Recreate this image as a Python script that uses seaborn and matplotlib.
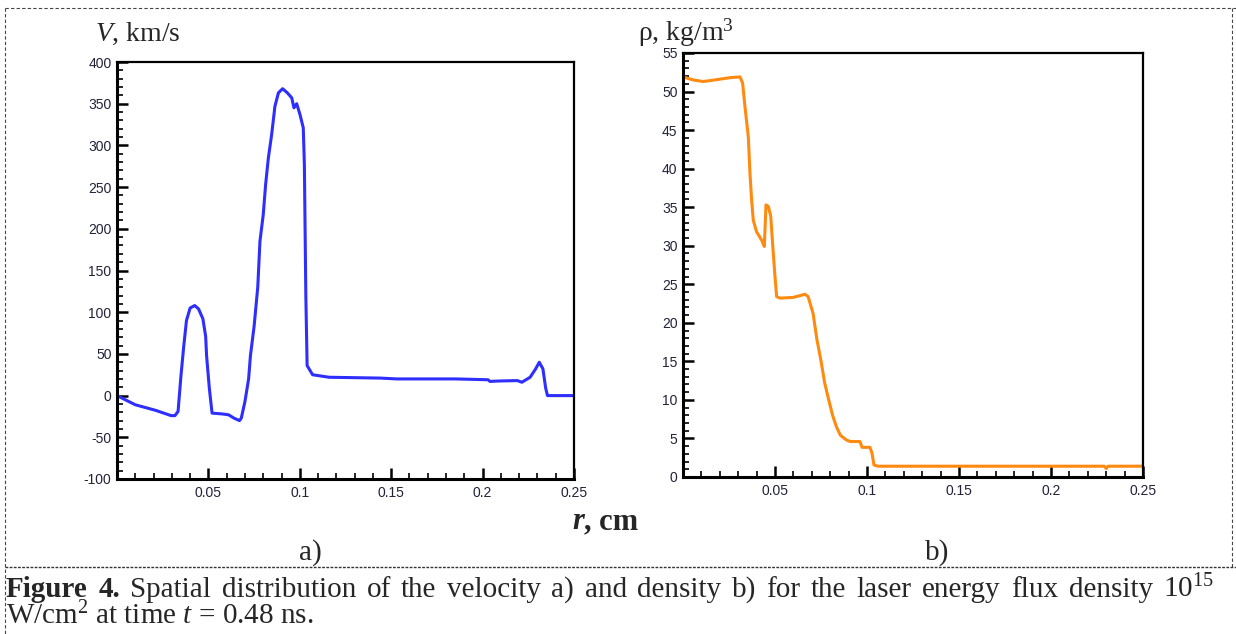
import matplotlib
matplotlib.use("Agg")
import matplotlib.pyplot as plt
import seaborn as sns
from matplotlib.lines import Line2D
from matplotlib.ticker import MultipleLocator

# velocity profile a)
r_v = [0.0, 0.010, 0.021, 0.0296, 0.0317, 0.0334, 0.035, 0.0365, 0.038, 0.040, 0.0425,
       0.0446, 0.047, 0.0485, 0.049, 0.0505, 0.052, 0.0576, 0.061, 0.064, 0.067, 0.068,
       0.070, 0.072, 0.073, 0.075, 0.077, 0.0782, 0.080, 0.0813, 0.0828, 0.0846, 0.0864,
       0.0883, 0.0906, 0.0932, 0.0956, 0.0968, 0.0983, 0.1001, 0.1019, 0.1025, 0.1033,
       0.1040, 0.107, 0.116, 0.144, 0.153, 0.185, 0.203, 0.204, 0.209, 0.219, 0.2215,
       0.226, 0.229, 0.231, 0.233, 0.2345, 0.2355, 0.25]
v = [0, -11, -17.6, -24, -24, -19, 24, 59, 90, 105, 108,
     104, 92, 71, 48, 9, -21, -22, -23, -27, -30, -27,
     -7, 20, 48, 83, 130, 185, 217, 253, 285, 313, 347,
     363, 368, 363, 357, 345, 350, 337, 321, 277, 120,
     36, 25, 22, 21, 20, 20, 19, 17, 17.5, 18, 16,
     22, 32, 40, 32, 9, 0, 0]

# density profile b)
r_rho = [0.0, 0.0056, 0.011, 0.020, 0.0255, 0.031, 0.0324, 0.0337, 0.0355, 0.0364,
         0.0373, 0.0382, 0.040, 0.0428, 0.0442, 0.0451, 0.0464, 0.0477, 0.0488, 0.050,
         0.0509, 0.0527, 0.060, 0.0663, 0.068, 0.0707, 0.0728, 0.0749, 0.077, 0.0792,
         0.0813, 0.0834, 0.0856, 0.0888, 0.0909, 0.0962, 0.0973, 0.1016, 0.1027, 0.1038,
         0.106, 0.229, 0.230, 0.231, 0.25]
rho = [51.9, 51.5, 51.3, 51.6, 51.8, 51.9, 51.1, 48.0, 44.1, 39.4,
       35.9, 33.3, 31.8, 30.7, 29.9, 35.3, 35.1, 33.8, 29.9, 26.0,
       23.4, 23.2, 23.3, 23.7, 23.4, 21.2, 17.8, 15.2, 12.2, 10.0,
       8.0, 6.5, 5.4, 4.8, 4.6, 4.6, 3.85, 3.85, 3.1, 1.55,
       1.4, 1.4, 1.1, 1.4, 1.4]

x_ticks = [0.05, 0.1, 0.15, 0.2, 0.25]
x_labels = ["0.05", "0.1", "0.15", "0.2", "0.25"]
v_ticks = [-100, -50, 0, 50, 100, 150, 200, 250, 300, 350, 400]
rho_ticks = [0, 5, 10, 15, 20, 25, 30, 35, 40, 45, 50, 55]

sns.set_style("white")
plt.rcParams['font.family'] = ['Liberation Serif', 'DejaVu Serif']
plt.rcParams['mathtext.fontset'] = 'custom'
plt.rcParams['mathtext.rm'] = 'Liberation Serif'
plt.rcParams['mathtext.it'] = 'Liberation Serif:italic'
plt.rcParams['mathtext.bf'] = 'Liberation Serif:bold'

W, H = 1236, 634
fig = plt.figure(figsize=(W / 100, H / 100), dpi=100)


def px(x, y):
    return x / W, 1 - y / H


ax1 = fig.add_axes([117 / W, 1 - 479 / H, 457 / W, 417 / H])
ax2 = fig.add_axes([683 / W, 1 - 477 / H, 460 / W, 424 / H])

sns.lineplot(x=r_v, y=v, ax=ax1, color='#2e2eff', linewidth=2.2, sort=False, estimator=None)
sns.lineplot(x=r_rho, y=rho, ax=ax2, color='#ff8a10', linewidth=2.2, sort=False, estimator=None)

for ax, yt, ylim, ymin in [(ax1, v_ticks, (-100, 400), 10), (ax2, rho_ticks, (0, 55), 1)]:
    ax.set_xlim(0, 0.25)
    ax.set_ylim(*ylim)
    ax.set_xticks(x_ticks)
    ax.set_xticklabels(x_labels)
    ax.set_yticks(yt)
    ax.set_yticklabels([str(t) for t in yt])
    ax.xaxis.set_minor_locator(MultipleLocator(0.01))
    ax.yaxis.set_minor_locator(MultipleLocator(ymin))
    ax.tick_params(which='both', bottom=True, left=True, top=False, right=False)
    ax.tick_params(which='major', direction='in', length=8, width=1.8, color='black',
                   labelsize=10, labelcolor='#22223a', pad=4)
    ax.tick_params(which='minor', direction='in', length=4, width=1.2, color='black')
    ax.tick_params(axis='x', which='major', pad=5)
    for lab in ax.get_xticklabels() + ax.get_yticklabels():
        lab.set_family(['Liberation Sans', 'DejaVu Sans'])
    for side in ['top', 'right', 'bottom', 'left']:
        ax.spines[side].set_visible(True)
        ax.spines[side].set_color('black')
        ax.spines[side].set_linewidth(1.6)
    ax.spines['bottom'].set_linewidth(2.2)
    ax.spines['left'].set_linewidth(2.2)
    ax.set_xlabel('')
    ax.set_ylabel('')

# axis titles
fig.text(*px(95, 41), "$V$, km/s", fontsize=20, va='baseline', ha='left')
fig.text(*px(638, 41), "\u03c1, kg/m$^{3}$", fontsize=20, va='baseline', ha='left')

t_r = fig.text(*px(572, 529), "r", fontsize=22, va='baseline', ha='left',
               fontweight='bold', fontstyle='italic')
ax1.annotate(", cm", xy=(1, 0), xycoords=t_r, fontsize=22, va='bottom', ha='left',
             fontweight='bold', annotation_clip=False)

fig.text(*px(310, 560), "a)", fontsize=21, va='baseline', ha='center')
fig.text(*px(937, 560), "b)", fontsize=21, va='baseline', ha='center')

# caption, first line justified between x0 and x1
words = [("Figure", 'bold'), ("4.", 'bold')] + [(w, 'normal') for w in
         "Spatial distribution of the velocity a) and density b) for the laser energy flux density".split()]
words.append(("10$^{15}$", 'normal'))
texts = [fig.text(0, 1 - 597 / H, w, fontsize=21, fontweight=wt, va='baseline', ha='left')
         for w, wt in words]
fig.canvas.draw()
rend = fig.canvas.get_renderer()
widths = [t.get_window_extent(rend).width for t in texts]
x0, x1 = 6, 1214
gap = (x1 - x0 - sum(widths)) / (len(texts) - 1)
x = x0
for t, w in zip(texts, widths):
    t.set_x(x / W)
    x += w + gap

fig.text(*px(6, 624), "W/cm$^{2}$ at time $t$ = 0.48 ns.", fontsize=21, va='baseline', ha='left')

# dashed frame
dash = dict(color='#444444', linewidth=0.8, linestyle=(0, (3, 2)), transform=fig.transFigure)
fig.add_artist(Line2D([5 / W, 1], [1 - 8 / H, 1 - 8 / H], **dash))
fig.add_artist(Line2D([5 / W, 5 / W], [1 - 8 / H, 0], **dash))
fig.add_artist(Line2D([1232 / W, 1232 / W], [1 - 8 / H, 1 - 567 / H], **dash))
fig.add_artist(Line2D([5 / W, 1], [1 - 567 / H, 1 - 567 / H], color='#333333', linewidth=1.0,
                      linestyle=(0, (2, 1)), transform=fig.transFigure))

fig.savefig("out.png", dpi=100)
